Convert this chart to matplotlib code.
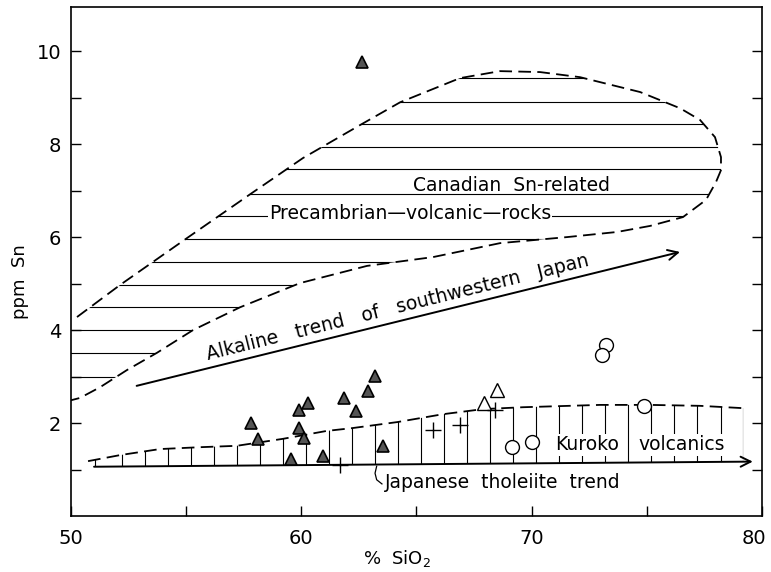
import numpy as np
import matplotlib.pyplot as plt
from matplotlib.patches import Polygon
from matplotlib.transforms import ScaledTranslation

# --- point data ---
# filled triangles
tri_x = [57.82, 58.11, 59.91, 60.28, 59.91, 60.13, 59.55, 60.93, 61.87, 62.38, 62.88, 63.20, 63.56, 62.64]
tri_y = [2.01, 1.65, 2.29, 2.44, 1.89, 1.68, 1.22, 1.30, 2.54, 2.26, 2.69, 3.01, 1.51, 9.76]
# open triangles
otri_x = [68.48, 67.95]
otri_y = [2.72, 2.44]
# crosses
cross_x = [61.68, 65.70, 66.89, 68.41]
cross_y = [1.10, 1.86, 1.96, 2.29]
# open circles
circ_x = [69.13, 70.00, 73.23, 73.07, 74.89]
circ_y = [1.48, 1.60, 3.68, 3.46, 2.37]

# --- Canadian Sn-related field outline ---
can_up_x = [50.26, 52.13, 55.04, 57.86, 60.07, 62.55, 64.29, 66.89, 68.63, 70.36, 72.10, 74.71,
            76.45, 77.31, 77.96, 78.22, 78.22, 78.00, 77.57, 76.57, 75.14, 73.71, 71.54, 68.63,
            65.72, 62.85, 59.94, 57.34, 55.30, 53.73, 52.43, 51.26, 50.39, 50.00]
can_up_y = [4.28, 4.97, 5.98, 6.95, 7.70, 8.41, 8.90, 9.42, 9.57, 9.55, 9.44, 9.12,
            8.77, 8.52, 8.15, 7.72, 7.44, 7.18, 6.80, 6.43, 6.24, 6.11, 6.00, 5.87,
            5.57, 5.38, 5.01, 4.49, 4.00, 3.51, 3.14, 2.77, 2.54, 2.49]
can_hatch = [3.0, 3.5, 4.0, 4.5, 4.97, 5.47, 5.96, 6.46, 6.92, 7.46, 7.93, 8.44, 8.91, 9.42]

# --- Kuroko volcanics field ---
kur_x = [50.74, 52.13, 53.86, 55.60, 57.20, 59.20, 61.10, 62.20, 64.16, 66.15, 67.90, 69.63,
         72.97, 75.14, 77.31, 79.18]
kur_y = [1.18, 1.31, 1.44, 1.48, 1.51, 1.66, 1.83, 1.89, 2.02, 2.19, 2.30, 2.34,
         2.39, 2.39, 2.37, 2.32]
thol_x = [51.0, 79.6]
thol_y = [1.06, 1.17]
kur_hatch = np.arange(52.2, 78.3, 1.0)

# alkaline trend arrow
alk_x = [52.85, 76.44]
alk_y = [2.80, 5.68]

fig = plt.figure(figsize=(7.71, 5.72), dpi=100)
ax = fig.add_axes([0.0921, 0.0979, 0.8962, 0.8899])

dash = (0, (7, 3.5))

# Canadian field: dashed outline + horizontal hatching clipped to it
ax.plot(can_up_x, can_up_y, color='k', lw=1.3, ls=dash, zorder=3)
clip_x = can_up_x + [49.0, 49.0]
clip_y = can_up_y + [2.49, 4.28]
can_poly = Polygon(np.column_stack([clip_x, clip_y]), closed=True, transform=ax.transData,
                   facecolor='none', edgecolor='none')
ax.add_patch(can_poly)
hl = ax.hlines(can_hatch, 49, 80, colors='k', lw=0.8, zorder=2)
hl.set_clip_path(can_poly)

# Kuroko field: dashed top + vertical hatching down to tholeiite line
ax.plot(kur_x, kur_y, color='k', lw=1.3, ls=dash, zorder=3)
kp_x = kur_x + [kur_x[-1], thol_x[0]]
kp_y = kur_y + [np.interp(kur_x[-1], thol_x, thol_y), thol_y[0]]
kur_poly = Polygon(np.column_stack([kp_x, kp_y]), closed=True, transform=ax.transData,
                   facecolor='none', edgecolor='none')
ax.add_patch(kur_poly)
vl = ax.vlines(list(kur_hatch) + [51.05, kur_x[-1]], 0, 3, colors='k', lw=0.8, zorder=2)
vl.set_clip_path(kur_poly)

# tholeiite trend (solid, arrow)
ax.annotate('', xy=(thol_x[1], thol_y[1]), xytext=(thol_x[0], thol_y[0]),
            arrowprops=dict(arrowstyle='->', color='k', lw=1.4, mutation_scale=18,
                            shrinkA=0, shrinkB=0), zorder=3)
# alkaline trend arrow
ax.annotate('', xy=(alk_x[1], alk_y[1]), xytext=(alk_x[0], alk_y[0]),
            arrowprops=dict(arrowstyle='->', color='k', lw=1.4, mutation_scale=18,
                            shrinkA=0, shrinkB=0), zorder=3)

# leader for tholeiite label
ax.plot([63.27, 63.20, 63.27, 63.50], [1.07, 0.92, 0.78, 0.69], color='k', lw=0.9)

# points
ax.plot(tri_x, tri_y, ls='none', marker='^', ms=9, mfc='#555555', mec='k', mew=1.2, zorder=5)
ax.plot(otri_x, otri_y, ls='none', marker='^', ms=10, mfc='white', mec='k', mew=1.0, zorder=5)
ax.plot(cross_x, cross_y, ls='none', marker='+', ms=11, mec='k', mew=1.0, zorder=5)
ax.plot(circ_x, circ_y, ls='none', marker='o', ms=10, mfc='white', mec='k', mew=1.0, zorder=5)

# labels
fs = 13.5
wb = dict(facecolor='white', edgecolor='none', pad=1)
ax.text(69.14, 7.12, 'Canadian  Sn-related', fontsize=fs, ha='center', va='center', zorder=4)
ax.text(64.72, 6.50, 'Precambrian\u2014volcanic\u2014rocks', fontsize=fs, ha='center',
        va='center', bbox=wb, zorder=4)
ax.text(64.2, 4.48, 'Alkaline   trend   of   southwestern   Japan', fontsize=fs, ha='center',
        va='center', rotation=13.9, rotation_mode='anchor', zorder=4)
ax.text(72.4, 1.53, 'Kuroko', fontsize=fs, ha='center', va='center', bbox=wb, zorder=4)
ax.text(76.5, 1.53, 'volcanics', fontsize=fs, ha='center', va='center', bbox=wb, zorder=4)
ax.text(63.63, 0.72, 'Japanese  tholeiite  trend', fontsize=fs, ha='left', va='center', zorder=4)

# axes
ax.set_xlim(50, 80)
ax.set_ylim(0, 10.95)
ax.set_xticks([50, 60, 70, 80])
ax.set_xticks([55, 65, 75], minor=True)
ax.set_yticks([2, 4, 6, 8, 10])
ax.set_yticks([1, 3, 5, 7, 9], minor=True)
ax.tick_params(which='both', direction='in', length=7, width=1, right=True, labelsize=14, pad=7)
ax.tick_params(axis='x', which='both', pad=9)
for s in ax.spines.values():
    s.set_linewidth(1.2)
# keep "80" inside the figure
lab80 = ax.get_xticklabels()[-1]
lab80.set_transform(lab80.get_transform() + ScaledTranslation(-6 / 72, 0, fig.dpi_scale_trans))
ax.set_xlabel('%  SiO$_2$', fontsize=13)
ax.xaxis.set_label_coords(0.472, -0.062)
ax.set_ylabel('ppm  Sn', fontsize=13)
ax.yaxis.set_label_coords(-0.061, 0.46)

fig.savefig('out.png', dpi=100)
